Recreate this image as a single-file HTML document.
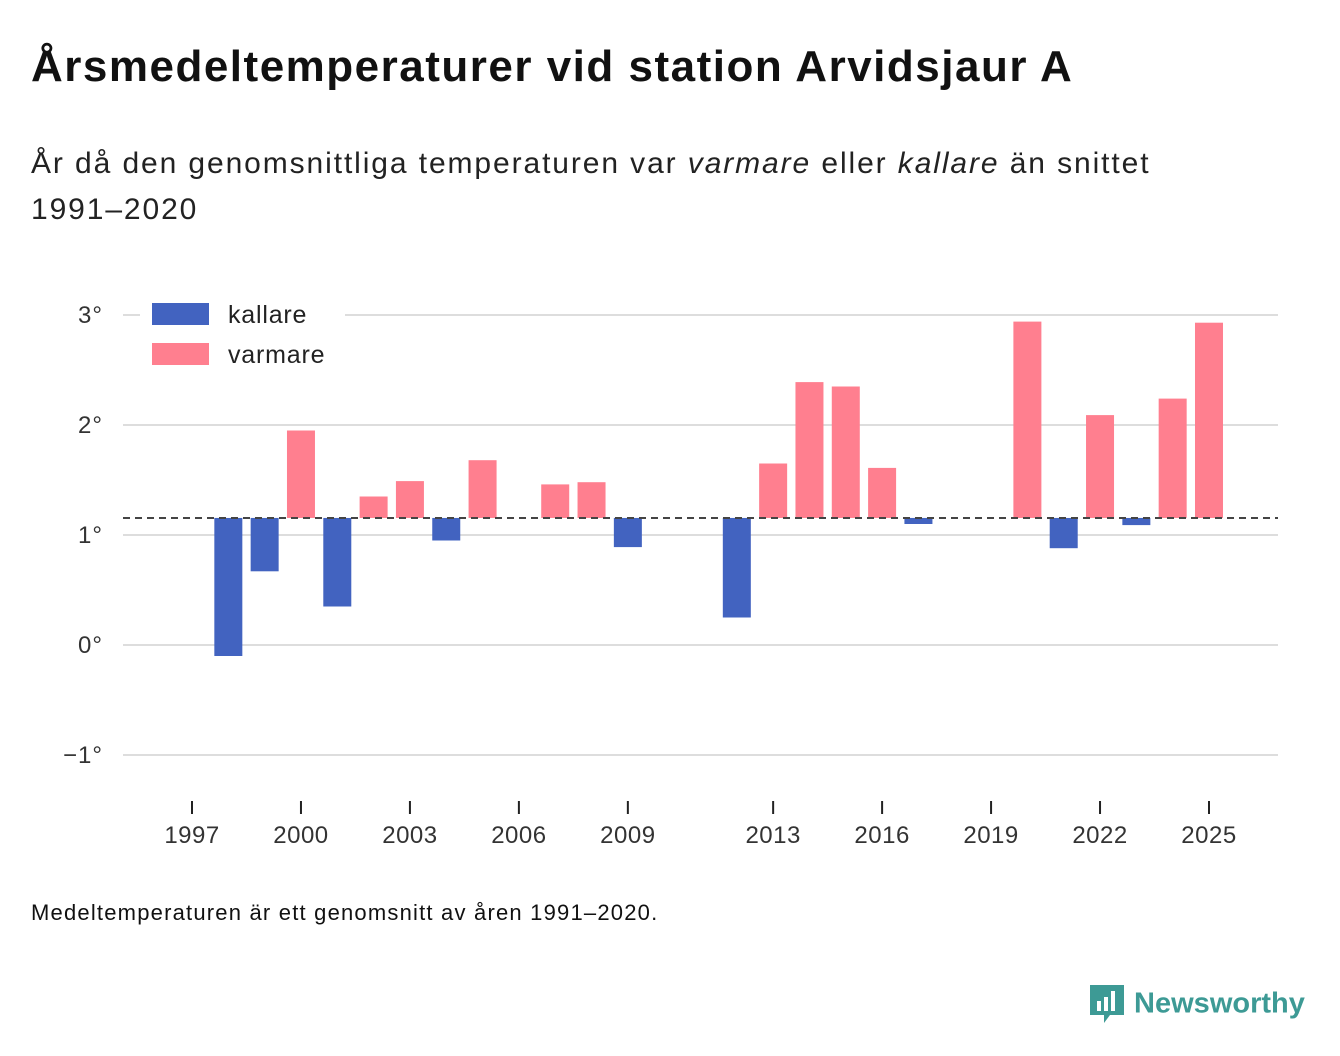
<!DOCTYPE html>
<html><head><meta charset="utf-8">
<style>
body{margin:0;width:1340px;height:1056px;background:#fff;font-family:"Liberation Sans",sans-serif;color:#111;position:relative;overflow:hidden}
#title{position:absolute;left:31px;top:42px;font-size:44px;letter-spacing:1.5px;font-weight:bold;margin:0}
#sub{position:absolute;left:31px;top:141px;font-size:30px;letter-spacing:1.9px;line-height:46px;width:1190px;color:#222}
#foot{position:absolute;left:31px;top:900px;font-size:22px;letter-spacing:1.2px;color:#111}
#logo{position:absolute;left:1088px;top:983px;font-size:29px;font-weight:bold;color:#3d9a95}
svg{position:absolute;left:0;top:0}
</style></head><body>
<h1 id="title">Årsmedeltemperaturer vid station Arvidsjaur A</h1>
<div id="sub">År då den genomsnittliga temperaturen var <i>varmare</i> eller <i>kallare</i> än snittet 1991–2020</div>
<svg id="chart" width="1340" height="1056"></svg>
<div id="foot">Medeltemperaturen är ett genomsnitt av åren 1991–2020.</div>
<div id="logo"><svg width="38" height="44" style="position:static;vertical-align:middle"><path d="M2 2h34v30H22l-6 8v-8H2z" fill="#3d9a95"/><rect x="9" y="18" width="4" height="10" fill="#fff"/><rect x="16" y="14" width="4" height="14" fill="#fff"/><rect x="23" y="8" width="4" height="20" fill="#fff"/></svg> Newsworthy</div>
<script>
const years=[1998,1999,2000,2001,2002,2003,2004,2005,2007,2008,2009,2012,2013,2014,2015,2016,2017,2020,2021,2022,2023,2024,2025];
const temps=[-0.1,0.67,1.95,0.35,1.35,1.49,0.95,1.68,1.46,1.48,0.89,0.25,1.65,2.39,2.35,1.61,1.10,2.94,0.88,2.09,1.09,2.24,2.93];
const average=1.155;
const yTicks=[-1,0,1,2,3];
const xTicks=[1997,2000,2003,2006,2009,2013,2016,2019,2022,2025];
const svg=document.getElementById('chart');
const NS='http://www.w3.org/2000/svg';
const L=123,R=1278;
const x=v=>L+(v-1995.1)/(2026.9-1995.1)*(R-L);
const y=v=>645-v*110;
function mk(t,a,txt){const e=document.createElementNS(NS,t);for(const k in a)e.setAttribute(k,a[k]);if(txt!=null)e.textContent=txt;svg.appendChild(e);return e;}
yTicks.forEach(t=>{
 const g=mk('line',{x1:L,x2:R,y1:y(t),y2:y(t),stroke:'#ddd','stroke-width':2});
 
 
 const l=mk('text',{x:103,y:y(t)+8,'text-anchor':'end','font-size':24,'letter-spacing':1,fill:'#333'},(t<0?'−'+(-t):t)+'°');
 
 
});
xTicks.forEach(t=>{
 const k=mk('line',{x1:x(t),x2:x(t),y1:801,y2:814,stroke:'#222','stroke-width':2});
 
 
 const l=mk('text',{x:x(t),y:843,'text-anchor':'middle','font-size':24,'letter-spacing':0.5,fill:'#333'},t);
 
 
});
years.forEach((yr,i)=>{
 const v=temps[i];const a=y(average),b=y(v);
 const r=mk('rect',{x:x(yr)-14,y:Math.min(a,b),width:28,height:Math.abs(a-b),fill:v<average?'#4263c0':'#ff7f8f'});
 
 
});
const d=mk('line',{x1:L,x2:R,y1:y(average),y2:y(average),stroke:'#444','stroke-width':2,'stroke-dasharray':'7,5'});


const bg=mk('rect',{x:140,y:292,width:205,height:82,fill:'#fff'});


[['kallare','#4263c0',303],['varmare','#ff7f8f',343]].forEach(([n,c,yy])=>{
 const s=mk('rect',{x:152,y:yy,width:57,height:22,fill:c});
 
 
 const t=mk('text',{x:228,y:yy+20,'font-size':25,'letter-spacing':0.8,fill:'#222'},n);
 
 
});
</script>
</body></html>
